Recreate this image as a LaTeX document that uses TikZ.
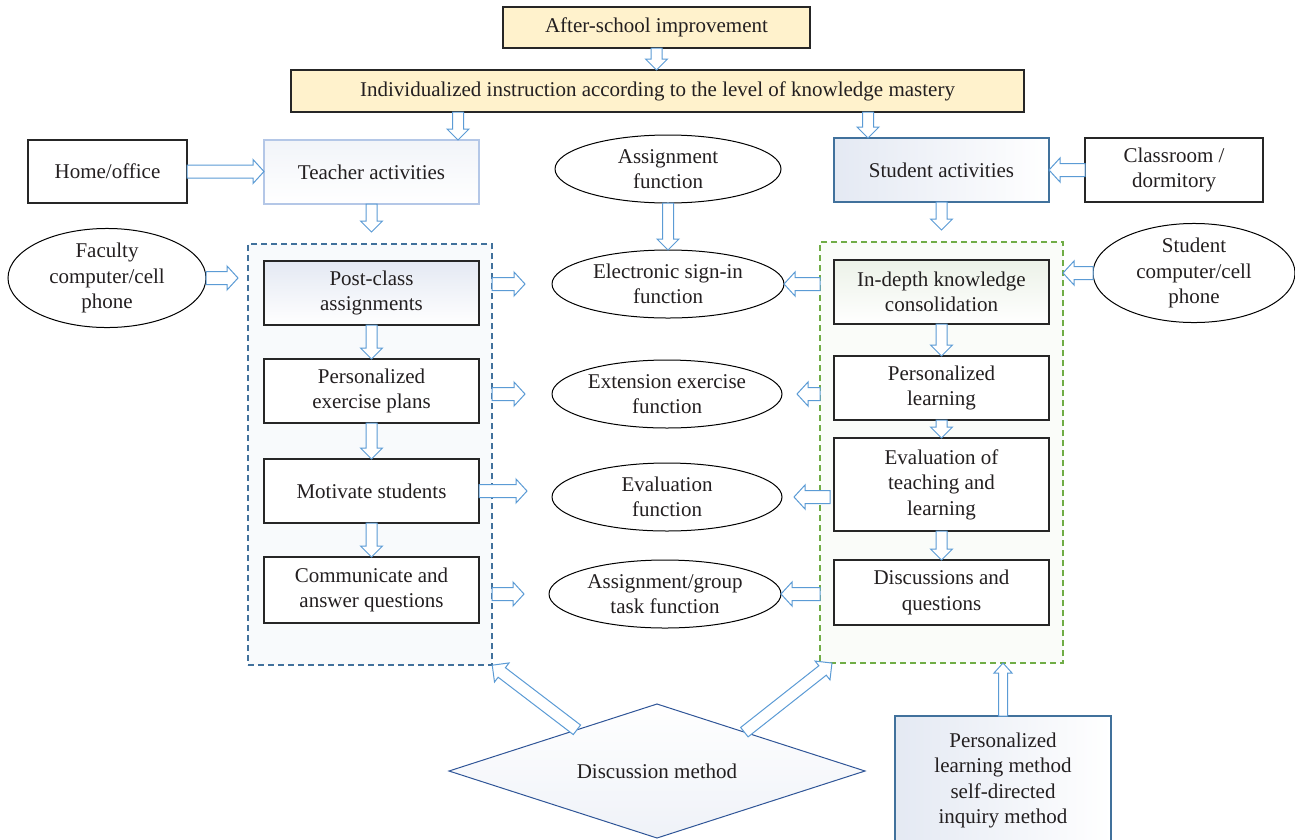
\documentclass[tikz,border=0pt]{standalone}
\usepackage{fontspec}
\setmainfont{Liberation Serif}
\usetikzlibrary{calc,shapes.geometric}
\definecolor{arrowblue}{RGB}{91,155,213}
\definecolor{boxyellow}{RGB}{255,242,204}
\definecolor{dashblue}{RGB}{65,113,156}
\definecolor{dashgreen}{RGB}{112,173,71}
\definecolor{lightframe}{RGB}{180,199,231}
\definecolor{midblue}{RGB}{47,85,151}
\definecolor{txt}{RGB}{35,31,32}
\definecolor{paleblue}{RGB}{228,233,243}
\definecolor{palegreen}{RGB}{236,242,232}
\tikzset{
  every node/.style={font=\fontsize{21}{25.5}\selectfont, text=txt, align=center, inner sep=0pt, outer sep=0pt},
  box/.style={draw=black!85, line width=1.2pt, minimum width=215pt, minimum height=64pt},
  ybox/.style={draw=black!85, line width=1.2pt, fill=boxyellow},
  oval/.style={ellipse, draw=black, line width=1pt, minimum width=230pt, minimum height=68pt},
  barrow/.style={draw=arrowblue, fill=white, line width=1pt, line join=miter},
  dashbox/.style={line width=1.2pt, dash pattern=on 6pt off 4pt},
}
% block arrow: shaft half width, head half width, head length, from, to
\newcommand\blkarrow[5]{%
  \draw[barrow] let \p1=($(#5)-(#4)$), \n1={veclen(\x1,\y1)}, \n2={atan2(\y1,\x1)} in
    [shift={(#4)}, rotate=\n2]
    (0,-#1) -- ({\n1-#3},-#1) -- ({\n1-#3},-#2) -- (\n1,0) -- ({\n1-#3},#2) -- ({\n1-#3},#1) -- (0,#1) -- cycle;}
\newcommand\ba[2]{\blkarrow{5.5}{11}{11}{#1}{#2}}
\begin{document}
\begin{tikzpicture}[x=1pt,y=1pt]
\useasboundingbox (0,0) rectangle (1295,-839);
\clip (0,0) rectangle (1295,-839);
% containers
\node[dashbox, draw=dashblue, fill=paleblue!25, minimum width=244pt, minimum height=421pt] (tdash) at (370,-454.5) {};
\node[dashbox, draw=dashgreen, fill=palegreen!25, minimum width=243pt, minimum height=421pt] (sdash) at (941.5,-452.5) {};
% top
\node[ybox, minimum width=307pt, minimum height=41pt] (after) at (656.5,-27.5) {After-school improvement};
\node[ybox, minimum width=733pt, minimum height=42pt] (indiv) at (657.5,-91) {Individualized instruction according to the level of knowledge mastery};
\node[box, minimum width=159pt, minimum height=63pt] (home) at (107.5,-171.5) {Home/office};
\node[box, draw=lightframe, top color=paleblue!50, bottom color=white] (teach) at (371.5,-172) {Teacher activities};
\node[oval, minimum width=226pt] (assignF) at (668,-169) {Assignment\\function};
\node[box, draw=dashblue, left color=paleblue, right color=white] (stud) at (941.5,-170) {Student activities};
\node[box, minimum width=178pt] (class) at (1174,-170) {Classroom /\\dormitory};
% left column
\node[oval, minimum width=198pt, minimum height=80pt] (faculty) at (107,-278) {Faculty\\computer/cell\\phone};
\node[box, top color=paleblue, bottom color=white] (post) at (371.5,-293) {Post-class\\assignments};
\node[box, fill=white] (pers) at (371.5,-391) {Personalized\\exercise plans};
\node[box, fill=white] (motiv) at (371.5,-491) {Motivate students};
\node[box, fill=white, minimum height=66pt] (comm) at (371.5,-590) {Communicate and\\answer questions};
% middle
\node[oval, minimum width=232pt] (esign) at (668,-284) {Electronic sign-in\\function};
\node[oval] (ext) at (667,-394) {Extension exercise\\function};
\node[oval] (evalF) at (667,-497) {Evaluation\\function};
\node[oval, minimum width=232pt] (agroup) at (665,-594) {Assignment/group\\task function};
% right column
\node[box, top color=palegreen, bottom color=white] (indepth) at (941.5,-292) {In-depth knowledge\\consolidation};
\node[box, fill=white] (perslearn) at (941.5,-388) {Personalized\\learning};
\node[box, fill=white, minimum height=93pt] (evalTL) at (941.5,-484.5) {Evaluation of\\teaching and\\learning};
\node[box, fill=white, minimum height=65pt] (disc) at (941.5,-592.5) {Discussions and\\questions};
\node[oval, minimum width=202pt, minimum height=97pt] (studcomp) at (1194,-273) {Student\\computer/cell\\phone};
% bottom
\node[diamond, aspect=3.1, draw=midblue, line width=1pt, top color=white, bottom color=paleblue!60, minimum width=416pt, minimum height=134pt] (dm) at (657,-771) {Discussion method};
\node[box, draw=dashblue, left color=paleblue, right color=white, minimum width=216pt, minimum height=129pt] (plm) at (1003,-780.5) {Personalized\\learning method\\self-directed\\inquiry method};
% arrow end points
\coordinate (t_in) at ([xshift=86.5pt]teach.north);
\coordinate (i_out1) at (indiv.south -| t_in);
\coordinate (s_in) at ([xshift=-73.5pt]stud.north);
\coordinate (i_out2) at (indiv.south -| s_in);
\coordinate (h_t) at (teach.west |- home.east);
\coordinate (c_s) at (stud.east |- class.west);
\coordinate (td_in) at ([yshift=12pt]tdash.north -| teach.south);
\coordinate (sd_in) at ([yshift=12pt]sdash.north -| stud.south);
\coordinate (f_in) at ([xshift=-10pt]tdash.west |- faculty.east);
\coordinate (e1) at ([xshift=-27pt]esign.west);
\coordinate (s1) at (tdash.east |- e1);
\coordinate (e2) at ([xshift=-27pt]ext.west);
\coordinate (s2) at (tdash.east |- e2);
\coordinate (e3) at ([xshift=-25pt]evalF.west |- motiv.east);
\coordinate (e4) at ([xshift=-25pt]agroup.west);
\coordinate (s4) at (tdash.east |- e4);
\coordinate (l1) at (sdash.west |- esign.east);
\coordinate (l2) at (sdash.west |- ext.east);
\coordinate (l2e) at ([xshift=15pt]ext.east);
\coordinate (l3) at ([xshift=10pt]sdash.west |- evalF.east);
\coordinate (l3e) at ([xshift=12pt]evalF.east);
\coordinate (l4) at (sdash.west |- agroup.east);
\coordinate (sc_in) at (sdash.east |- studcomp.west);
\coordinate (dl) at ($(dm.west)!0.615!(dm.north)$);
\coordinate (dr) at ($(dm.east)!0.58!(dm.north)$);
\coordinate (drend) at ([xshift=12pt]sdash.south west);
\coordinate (p_in) at (sdash.south -| plm.north);
\coordinate (ai_in) at (after.south |- indiv.north);
% arrows
\ba{after.south}{ai_in}
\ba{i_out1}{t_in}
\ba{i_out2}{s_in}
\blkarrow{6.5}{12}{11}{home.east}{h_t}
\blkarrow{6.5}{12}{11}{class.west}{c_s}
\ba{teach.south}{td_in}
\ba{stud.south}{sd_in}
\ba{assignF.south}{esign.north}
\blkarrow{6.5}{12}{11}{faculty.east}{f_in}
\ba{post.south}{pers.north}
\ba{pers.south}{motiv.north}
\ba{motiv.south}{comm.north}
\ba{indepth.south}{perslearn.north}
\ba{perslearn.south}{evalTL.north}
\ba{evalTL.south}{disc.north}
\blkarrow{6.5}{12}{11}{s1}{e1}
\blkarrow{6.5}{12}{11}{s2}{e2}
\blkarrow{6.5}{12}{11}{motiv.east}{e3}
\blkarrow{6.5}{12}{11}{s4}{e4}
\blkarrow{6.5}{12}{11}{l1}{esign.east}
\blkarrow{6.5}{12}{11}{l2}{l2e}
\blkarrow{6.5}{12}{11}{l3}{l3e}
\blkarrow{6.5}{12}{11}{l4}{agroup.east}
\blkarrow{6.5}{12}{11}{studcomp.west}{sc_in}
\blkarrow{6}{12}{12}{dl}{tdash.south east}
\blkarrow{6}{12}{12}{dr}{drend}
\blkarrow{4.5}{9}{10}{plm.north}{p_in}
\end{tikzpicture}
\end{document}
